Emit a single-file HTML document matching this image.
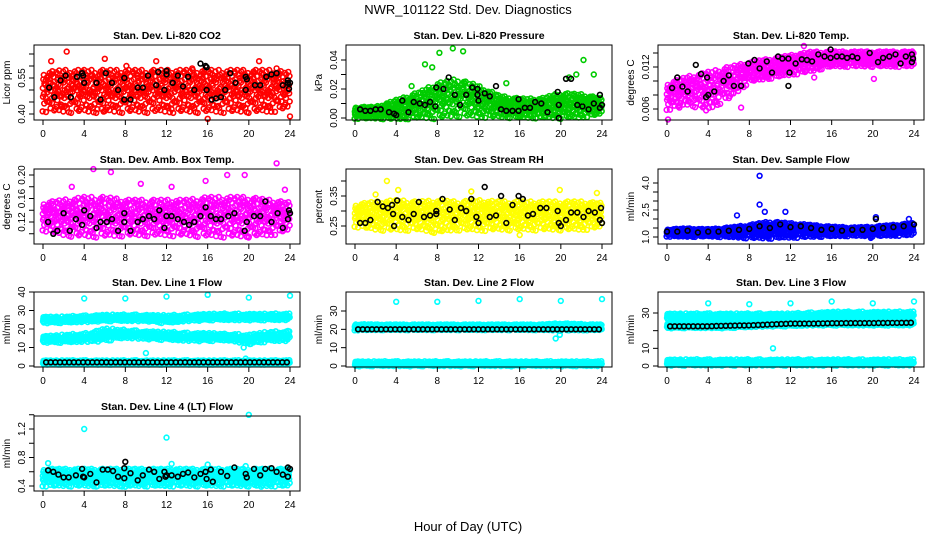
<!DOCTYPE html>
<html><head><meta charset="utf-8">
<style>
body{margin:0;background:#fff;}
svg{display:block;font-family:"Liberation Sans",Arial,sans-serif;}
</style></head>
<body>
<svg id="chart" width="936" height="540" viewBox="0 0 936 540">
<text x="468" y="14" text-anchor="middle" font-size="13">NWR_101122  Std. Dev. Diagnostics</text>
<text x="468" y="531" text-anchor="middle" font-size="13">Hour of Day (UTC)</text>
</svg>
<script>
// ---- data ----
const knots = [0,2,4,6,8,10,12,14,16,18,20,22,24];
// Panel 1: CO2 (Licor ppm)
const co2Low  = [0.46,0.46,0.46,0.46,0.46,0.46,0.46,0.46,0.46,0.46,0.46,0.46,0.47];
const co2High = [0.58,0.59,0.59,0.59,0.59,0.59,0.59,0.59,0.59,0.59,0.59,0.59,0.58];
const co2Out  = [[2.3,0.66],[0.8,0.62],[6,0.63],[11,0.62],[21,0.62],[22.7,0.59],[5.9,0.41],[5.3,0.42],[16,0.38],[24,0.39],[12.5,0.42],[1.8,0.43],[8.1,0.6],[14.5,0.59]];
const co2Black = [[0.6,0.51],[1.1,0.47],[1.7,0.54],[2.2,0.56],[2.7,0.47],[3.3,0.555],[3.8,0.57],[3.9,0.56],[4,0.53],[5.2,0.53],[5.6,0.46],[6.1,0.57],[6.7,0.53],[7.3,0.5],[7.9,0.55],[7.9,0.46],[8.5,0.46],[9.2,0.51],[9.7,0.51],[10.2,0.56],[11,0.52],[11.2,0.575],[11.8,0.5],[12,0.58],[12,0.565],[12.6,0.53],[13.1,0.56],[13.6,0.515],[14.1,0.555],[14.7,0.5],[15.3,0.61],[15.8,0.6],[15.9,0.595],[15.9,0.5],[16.4,0.46],[16.8,0.465],[17.3,0.47],[17.7,0.5],[18.2,0.57],[18.7,0.53],[19.7,0.555],[19.7,0.5],[19.8,0.545],[20.6,0.52],[21.1,0.52],[21.7,0.555],[22.2,0.565],[22.7,0.57],[23.3,0.52],[23.8,0.54],[23.8,0.53],[23.9,0.505],[24,0.53]];
// Panel 2: pressure (kPa)
const prLow  = [0.002,0.002,0.003,0.005,0.007,0.009,0.007,0.005,0.004,0.004,0.005,0.005,0.006];
const prHigh = [0.008,0.008,0.013,0.018,0.025,0.028,0.023,0.016,0.014,0.014,0.018,0.017,0.014];
const prOut  = [[8.2,0.045],[9.5,0.048],[10.5,0.046],[20.8,0.028],[21.5,0.03],[22.2,0.04],[23.2,0.03],[6.8,0.037],[7.5,0.035],[14.7,0.024],[1,0.0],[2.5,0.0],[5.5,0.022]];
const prBlack = [[0.5,0.006],[1,0.005],[1.5,0.005],[2,0.006],[2.5,0.006],[3.3,0.004],[3.8,0.003],[4,0.002],[4.6,0.012],[5.2,0.004],[5.7,0.011],[6.3,0.01],[6.8,0.009],[7.3,0.011],[7.8,0.008],[7.9,0.021],[8.6,0.02],[9.1,0.028],[9.7,0.016],[10.2,0.009],[10.8,0.016],[11.4,0.021],[11.9,0.02],[11.9,0.016],[12,0.012],[12.6,0.017],[13.1,0.015],[13.7,0.022],[14.2,0.006],[14.7,0.005],[15.3,0.005],[15.9,0.013],[15.9,0.005],[16.5,0.007],[17,0.007],[17.5,0.011],[18.1,0.01],[18.7,0.004],[19.7,0.018],[19.8,0.009],[19.8,0.0],[20.5,0.027],[21,0.027],[21.6,0.009],[22.1,0.008],[22.7,0.006],[23.2,0.01],[23.8,0.016],[23.8,0.007],[24,0.009]];
// Panel 3: Li-820 temp
const ltLow  = [0.007,0.0078,0.0075,0.0088,0.0107,0.0112,0.0117,0.0122,0.0127,0.0127,0.0127,0.0127,0.0127];
const ltHigh = [0.0098,0.0108,0.0115,0.0122,0.0128,0.0133,0.0138,0.0143,0.0143,0.0143,0.0143,0.0143,0.0143];
const ltOut  = [[0.1,0.0045],[1.2,0.0062],[3.8,0.0058],[7.2,0.0062],[20.1,0.0103],[14.3,0.0105],[13.3,0.015]];
const ltBlack = [[0.5,0.009],[1,0.0105],[1.5,0.0092],[2,0.0085],[2.8,0.0123],[3.3,0.011],[3.8,0.0077],[3.9,0.0105],[4,0.008],[4.6,0.0085],[5.5,0.01],[6,0.0108],[6.5,0.0093],[7.2,0.0093],[7.9,0.0125],[8.5,0.013],[9,0.0118],[9.7,0.0128],[10.2,0.0112],[10.8,0.0135],[11.2,0.0132],[11.8,0.0132],[11.8,0.0093],[11.9,0.0112],[12.5,0.0125],[13.1,0.0131],[13.6,0.013],[14.1,0.0128],[14.7,0.0138],[15.3,0.0135],[15.9,0.0133],[15.9,0.0145],[16.5,0.0135],[17,0.0135],[17.5,0.0133],[18,0.0135],[18.5,0.0133],[19.7,0.014],[20.5,0.0127],[21,0.0133],[21.6,0.0135],[22.2,0.0138],[22.7,0.0125],[23.2,0.0135],[23.8,0.0138],[23.8,0.0127],[23.9,0.0132]];
// Panel 4: ambient box temp
const btLow  = [0.12,0.115,0.115,0.115,0.115,0.115,0.115,0.115,0.115,0.115,0.115,0.115,0.12];
const btHigh = [0.155,0.16,0.165,0.165,0.16,0.16,0.16,0.16,0.165,0.165,0.165,0.16,0.155];
const btOut  = [[4.9,0.21],[6.6,0.205],[22.7,0.22],[9.5,0.185],[15.8,0.19],[17.9,0.2],[19.6,0.2],[2.8,0.18],[20,0.095],[12.5,0.18],[23.5,0.175]];
const btBlack = [[0.5,0.12],[1,0.1],[1.4,0.105],[2,0.135],[2.6,0.105],[3.2,0.125],[3.8,0.115],[4,0.14],[4.6,0.13],[5.2,0.11],[5.6,0.12],[6.2,0.12],[6.7,0.125],[7.3,0.105],[7.9,0.135],[7.9,0.12],[8.5,0.105],[9.2,0.12],[9.7,0.125],[10.3,0.13],[10.8,0.125],[11.3,0.14],[11.8,0.11],[12,0.13],[12.5,0.13],[13.1,0.125],[13.7,0.12],[14.2,0.115],[14.7,0.12],[15.3,0.13],[15.8,0.145],[16.3,0.13],[16.8,0.125],[17.3,0.125],[18,0.13],[18.6,0.135],[19.6,0.105],[19.8,0.12],[20.5,0.13],[21.1,0.13],[21.6,0.155],[22.2,0.12],[22.8,0.135],[23.3,0.11],[23.8,0.125],[23.9,0.14],[24,0.135]];
// Panel 5: gas stream RH
const rhLow  = [0.27,0.265,0.265,0.265,0.26,0.265,0.265,0.265,0.265,0.265,0.265,0.265,0.27];
const rhHigh = [0.325,0.335,0.34,0.335,0.34,0.335,0.34,0.335,0.335,0.335,0.335,0.335,0.33];
const rhOut  = [[3.1,0.4],[16,0.22],[7.5,0.23],[8.2,0.235],[19.9,0.37],[23.5,0.36],[4.2,0.37],[2,0.355],[11.3,0.365],[1.2,0.245]];
const rhBlack = [[0.5,0.26],[1,0.26],[1.5,0.27],[2.2,0.33],[2.7,0.315],[3.2,0.31],[3.6,0.32],[3.7,0.29],[3.8,0.25],[4.1,0.335],[4.6,0.28],[5.2,0.27],[5.7,0.29],[6.2,0.33],[6.7,0.28],[7.3,0.285],[7.9,0.3],[7.9,0.29],[8.5,0.34],[9.2,0.305],[9.7,0.27],[10.3,0.31],[10.8,0.3],[11.3,0.34],[11.8,0.28],[12,0.26],[12.6,0.38],[13.1,0.28],[13.7,0.285],[14.2,0.35],[14.7,0.26],[15.3,0.32],[15.9,0.35],[16.3,0.34],[16.8,0.285],[17.3,0.29],[18,0.31],[18.6,0.31],[19.7,0.3],[19.8,0.26],[20,0.25],[20.5,0.27],[21,0.295],[21.6,0.295],[22.2,0.28],[22.7,0.3],[23.3,0.295],[23.8,0.27],[23.9,0.31],[24,0.26]];
// Panel 6: sample flow
const sfLow  = [1.15,1.15,1.15,1.15,1.15,1.2,1.2,1.2,1.2,1.2,1.2,1.25,1.3];
const sfHigh = [1.45,1.5,1.45,1.55,1.7,1.9,1.8,1.7,1.6,1.55,1.6,1.7,1.8];
const sfOut  = [[9,4.4],[9,2.8],[9.5,2.4],[11.5,2.4],[6.8,2.2],[19.8,0.95],[20.3,2.1],[23.5,2.0]];
const sfBlack = [[0,1.3],[1,1.3],[2,1.35],[3,1.25],[4,1.3],[5,1.3],[6,1.35],[7,1.4],[8,1.45],[9,1.6],[10,1.5],[11,1.7],[12,1.55],[13,1.6],[14,1.5],[15,1.4],[16,1.45],[17,1.35],[18,1.4],[19,1.4],[20,1.45],[20.3,2.0],[21,1.5],[22,1.55],[23,1.6],[24,1.7]];
// Panel 7: line 1 flow (three bands)
const l1aLow = [24,24,24.5,25,25,25,24,25,25.5,25.5,25.5,25.5,25.5];
const l1aHigh= [26,26,26.5,27,27,27,26.5,27,27.5,27.5,27.5,27.5,27.5];
const l1bLow = [13.5,13.5,14,15,16,15.5,15,14.5,14.5,14.5,13,14.5,14.5];
const l1bHigh= [15.5,16,16.5,19,18.5,18,17.5,17,17,16.5,16,17.5,17.5];
const l1cLow = [1.3,1.3,1.3,1.3,1.3,1.3,1.3,1.3,1.3,1.3,1.3,1.3,1.3];
const l1cHigh= [2.6,2.6,2.6,2.6,2.6,2.6,2.6,2.6,2.6,2.6,2.6,2.6,2.6];
const l1Out  = [[4,36.5],[8,36.5],[12,37.5],[16,38.5],[20,37],[24,38],[10,7],[19.5,10],[19.7,4],[20.2,12],[23.8,19]];
const l1BlackVal = [2,2,2,2,2,2,2,2,2,2,2,2,2];
// Panel 8: line 2 flow
const l2aLow = [20.5,20.5,20.5,20.5,20.5,20.5,20.5,20.5,20.5,20.5,20.5,20.5,20.5];
const l2aHigh= [23,22.8,22.8,22.8,22.8,22.8,22.8,22.8,22.8,22.8,23.5,23,22.8];
const l2cLow = [0.5,0.5,0.5,0.5,0.5,0.5,0.5,0.5,0.5,0.5,0.5,0.5,0.5];
const l2cHigh= [2,2,2,2,2,2,2,2,2,2,2,2,2];
const l2Out  = [[4,35],[8,35],[12,35.5],[16,36.5],[20,35.5],[24,36.5],[19.5,15],[19.9,17]];
const l2BlackVal = [20,20,20,20,20,20,20,20,20,20,20,20,20];
// Panel 9: line 3 flow
const l3aLow = [27,27,27,27,27,27,27,27.5,28,28,28,28,28];
const l3aHigh= [29,29,29,29,29,29,29,29.5,30,30,30,30,30];
const l3bLow = [22,22,22,22,22.5,23,23,23.5,23.5,23.5,23.5,23.5,23.5];
const l3bHigh= [23.5,23.5,23.5,23.5,24,24.5,24.5,25,25,25,25,25,25];
const l3cLow = [1,1,1,1,1,1,1,1,1,1,1,1,1];
const l3cHigh= [3,3,3,3,3,3,3,3,3,3,3,3,3];
const l3Out  = [[4,35.5],[8,35],[12,35.5],[16,36.5],[20,35.5],[24,36.5],[10.3,10],[10,29],[10.5,28.5]];
const l3BlackVal = [22.5,22.5,22.5,22.8,23,23.5,24,24,24.2,24.3,24.3,24.4,24.5];
// Panel 10: line 4 flow
const l4Low  = [0.47,0.47,0.47,0.47,0.47,0.47,0.47,0.47,0.47,0.47,0.47,0.47,0.47];
const l4High = [0.65,0.65,0.65,0.65,0.65,0.65,0.65,0.65,0.65,0.65,0.65,0.65,0.65];
const l4Out  = [[4,1.2],[12,1.08],[20,1.4],[0.5,0.72],[12.5,0.71],[5.3,0.4],[8,0.39],[11.8,0.41],[21.2,0.39],[16,0.7],[19.7,0.68]];
const l4Black = [[0.5,0.62],[1,0.6],[1.5,0.56],[2,0.52],[2.5,0.52],[3.2,0.55],[3.8,0.64],[3.9,0.53],[4,0.52],[4.6,0.57],[5.2,0.45],[5.8,0.63],[6.3,0.63],[6.8,0.61],[7.3,0.53],[7.9,0.65],[7.9,0.51],[8,0.74],[8.5,0.58],[9.2,0.48],[9.7,0.55],[10.3,0.63],[10.8,0.6],[11.3,0.5],[11.8,0.6],[11.9,0.53],[12,0.55],[12.5,0.55],[13.1,0.53],[13.6,0.57],[14.1,0.59],[14.7,0.52],[15.3,0.57],[15.8,0.6],[15.9,0.5],[16.5,0.46],[16.3,0.63],[17.3,0.6],[17.9,0.54],[18.6,0.66],[19.7,0.57],[19.8,0.52],[20.5,0.64],[21.1,0.55],[21.6,0.64],[22.2,0.65],[22.7,0.6],[23.3,0.56],[23.8,0.66],[23.8,0.53],[24,0.64]];

// ---- layout ----
const colLeft=[34,346,658], rowTop=[45,169,292,416], boxW=266, boxH=75;
const NS='http://www.w3.org/2000/svg';
const svg=document.getElementById('chart');
function mk(tag,attrs,parent){const e=document.createElementNS(NS,tag);for(const k in attrs)e.setAttribute(k,attrs[k]);(parent||svg).appendChild(e);return e;}
function interp(arr,h){const i=Math.min(11,Math.floor(h/2));const t=(h-knots[i])/2;return arr[i]+(arr[i+1]-arr[i])*t;}
const fr=[0.1,0.7,0.4,0.9,0.2,0.55,0.85,0.3,0.65,0.05,0.5,0.95,0.25,0.75,0.45,0.15,0.8,0.35,0.6];
const jx=[0,0.03,-0.02,0.05,-0.04,0.01,-0.05,0.04,-0.01,0.02,-0.03];

function panel(o){
  const L=colLeft[o.col],T=rowTop[o.row];
  const g=mk('g',{});
  
  
  const xs=h=>L+9+h*247/24;
  const ys=v=>o.py0+(v-o.v0)*(o.py1-o.py0)/(o.v1-o.v0);
  const t=mk('text',{x:L+boxW/2,y:T-6,'text-anchor':'middle','font-size':'10.5','font-weight':'bold'},g);
  t.textContent=o.title;
  
  
  const pts=mk('g',{fill:'none','stroke-width':'1.6'},g);
  
  
  const dot=(h,v,c)=>{mk('circle',{cx:xs(h).toFixed(1),cy:ys(v).toFixed(1),r:2.4,stroke:c},pts);};
  (o.bands||[]).forEach(b=>{
    let k=0;
    const n=b[2]||3;
    for(let h=0;h<=24;h+=0.13){
      const lo=interp(b[0],h),hi=interp(b[1],h),w=hi-lo;
      for(let j=0;j<n;j++){dot(h+jx[k%jx.length],lo+w*fr[(k++)%fr.length],o.color);}
      // sparse halo around band
      const f=fr[(k++)%fr.length];
      const v=(k%2)?hi+w*0.45*f:lo-w*0.45*f;
      dot(h+jx[k%jx.length],v,o.color);
    }
  });
  (o.out||[]).forEach(p=>dot(p[0],p[1],o.color));
  if(o.black) o.black.forEach(p=>dot(p[0],p[1],'#000'));
  if(o.blackVal){for(let h=0.3;h<=24;h+=0.45)dot(h,interp(o.blackVal,h),'#000');}
  const bx=mk('rect',{x:L,y:T,width:boxW,height:boxH,fill:'none',stroke:'#000','stroke-width':'1'},g);
  
  
  const B=T+boxH;
  mk('line',{x1:xs(0),x2:xs(24),y1:B,y2:B,stroke:'#000'},g);
  for(let h=0;h<=24;h+=4){
    mk('line',{x1:xs(h),x2:xs(h),y1:B,y2:B+5,stroke:'#000'},g);
    const tl=mk('text',{x:xs(h),y:B+17,'text-anchor':'middle','font-size':'10'},g);tl.textContent=h;
    
    
  }
  mk('line',{x1:L,x2:L,y1:ys(o.ticks[0]),y2:ys(o.ticks[o.ticks.length-1]),stroke:'#000'},g);
  o.ticks.forEach(v=>{mk('line',{x1:L-5,x2:L,y1:ys(v),y2:ys(v),stroke:'#000'},g);});
  o.labels.forEach(v=>{const yy=ys(v);const tl=mk('text',{x:L-9,y:yy,'text-anchor':'middle','font-size':'10',transform:`rotate(-90 ${L-9} ${yy})`},g);tl.textContent=o.fmt(v);
    
    });
  const yl=mk('text',{x:L-24,y:T+boxH/2,'text-anchor':'middle','font-size':'10',transform:`rotate(-90 ${L-24} ${T+boxH/2})`},g);
  yl.textContent=o.ylab;
  
  
}
const f2=v=>v.toFixed(2), f3=v=>v.toFixed(3), f0=v=>v.toFixed(0), f1=v=>v.toFixed(1);
panel({name:'panel-co2',col:0,row:0,title:'Stan. Dev. Li-820 CO2',ylab:'Licor ppm',color:'#f00',v0:0.40,py0:114,v1:0.55,py1:78,ticks:[0.40,0.45,0.50,0.55,0.60,0.65],labels:[0.40,0.55],fmt:f2,bands:[[co2Low,co2High,3]],out:co2Out,black:co2Black});
panel({name:'panel-pressure',col:1,row:0,title:'Stan. Dev. Li-820 Pressure',ylab:'kPa',color:'#0c0',v0:0,py0:118,v1:0.04,py1:60,ticks:[0,0.01,0.02,0.03,0.04],labels:[0,0.02,0.04],fmt:f2,bands:[[prLow,prHigh,3]],out:prOut,black:prBlack});
panel({name:'panel-li820-temp',col:2,row:0,title:'Stan. Dev. Li-820 Temp.',ylab:'degrees C',color:'#f0f',v0:0.006,py0:109,v1:0.014,py1:53,ticks:[0.006,0.008,0.010,0.012,0.014],labels:[0.006,0.012],fmt:f3,bands:[[ltLow,ltHigh,3]],out:ltOut,black:ltBlack});
panel({name:'panel-box-temp',col:0,row:1,title:'Stan. Dev. Amb. Box Temp.',ylab:'degrees C',color:'#f0f',v0:0.12,py0:222,v1:0.20,py1:175,ticks:[0.10,0.12,0.14,0.16,0.18,0.20],labels:[0.12,0.16,0.20],fmt:f2,bands:[[btLow,btHigh,3]],out:btOut,black:btBlack});
panel({name:'panel-rh',col:1,row:1,title:'Stan. Dev. Gas Stream RH',ylab:'percent',color:'#ff0',v0:0.25,py0:226,v1:0.35,py1:196,ticks:[0.25,0.30,0.35,0.40],labels:[0.25,0.35],fmt:f2,bands:[[rhLow,rhHigh,3]],out:rhOut,black:rhBlack});
panel({name:'panel-sample-flow',col:2,row:1,title:'Stan. Dev. Sample Flow',ylab:'ml/min',color:'#00f',v0:1.0,py0:237,v1:4.0,py1:183,ticks:[1.0,1.5,2.0,2.5,3.0,3.5,4.0],labels:[1.0,2.5,4.0],fmt:f1,bands:[[sfLow,sfHigh,3]],out:sfOut,black:sfBlack});
panel({name:'panel-line1-flow',col:0,row:2,title:'Stan. Dev. Line 1 Flow',ylab:'ml/min',color:'#0ff',v0:0,py0:366,v1:40,py1:292,ticks:[0,10,20,30,40],labels:[0,10,20,30,40],fmt:f0,bands:[[l1aLow,l1aHigh,2],[l1bLow,l1bHigh,2],[l1cLow,l1cHigh,2]],out:l1Out,blackVal:l1BlackVal});
panel({name:'panel-line2-flow',col:1,row:2,title:'Stan. Dev. Line 2 Flow',ylab:'ml/min',color:'#0ff',v0:0,py0:366,v1:30,py1:311,ticks:[0,10,20,30],labels:[0,10,20,30],fmt:f0,bands:[[l2aLow,l2aHigh,3],[l2cLow,l2cHigh,2]],out:l2Out,blackVal:l2BlackVal});
panel({name:'panel-line3-flow',col:2,row:2,title:'Stan. Dev. Line 3 Flow',ylab:'ml/min',color:'#0ff',v0:0,py0:366,v1:30,py1:313,ticks:[0,10,20,30],labels:[0,10,30],fmt:f0,bands:[[l3aLow,l3aHigh,2],[l3bLow,l3bHigh,2],[l3cLow,l3cHigh,2]],out:l3Out,blackVal:l3BlackVal});
panel({name:'panel-line4-flow',col:0,row:3,title:'Stan. Dev. Line 4 (LT) Flow',ylab:'ml/min',color:'#0ff',v0:0.4,py0:486,v1:1.2,py1:429,ticks:[0.4,0.6,0.8,1.0,1.2,1.4],labels:[0.4,0.8,1.2],fmt:f1,bands:[[l4Low,l4High,3]],out:l4Out,black:l4Black});
</script>
</body></html>
